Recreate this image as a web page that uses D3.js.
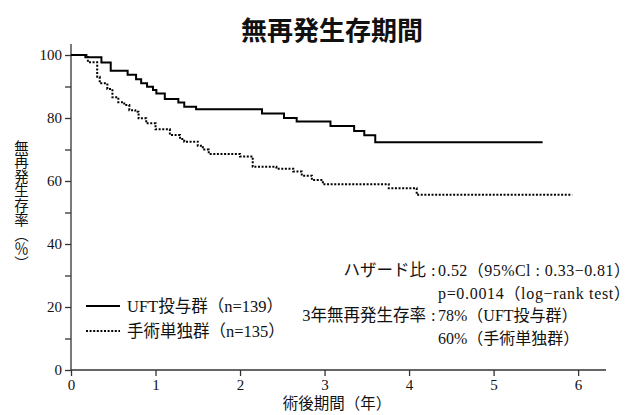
<!DOCTYPE html>
<html><head><meta charset="utf-8">
<script src="https://cdn.jsdelivr.net/npm/d3@7"></script>
<style>
body{margin:0;background:#fff;}
svg text{font-family:"Liberation Serif","Noto Sans CJK JP",serif;fill:#111;}
</style></head>
<body><svg id="c" width="638" height="415"></svg>
<script>
const uftTimes = [0, 0.17, 0.36, 0.47, 0.67, 0.77, 0.83, 0.90, 0.97, 1.01, 1.11, 1.27, 1.34, 1.48, 2.26, 2.52, 2.67, 3.07, 3.35, 3.47, 3.60, 5.58];
const uftSurv  = [100, 99.3, 97.6, 95.0, 93.7, 92.3, 91.0, 89.9, 88.9, 87.8, 86.0, 84.9, 83.6, 82.8, 81.4, 80.0, 78.9, 77.5, 75.9, 74.5, 72.3, 72.3];
const surgTimes = [0, 0.20, 0.31, 0.34, 0.43, 0.49, 0.56, 0.63, 0.69, 0.76, 0.80, 0.89, 1.00, 1.17, 1.29, 1.34, 1.50, 1.56, 1.63, 2.00, 2.15, 2.43, 2.63, 2.73, 2.85, 2.98, 3.76, 4.09, 5.93];
const surgSurv  = [100, 97.7, 93.1, 91.0, 89.2, 86.6, 85.0, 84.1, 82.5, 82.0, 79.9, 78.3, 76.4, 74.6, 73.3, 72.5, 71.2, 70.0, 68.6, 67.8, 64.5, 63.9, 63.0, 61.7, 60.3, 59.0, 57.7, 55.6, 55.6];
const xTicks = [0, 1, 2, 3, 4, 5, 6];
const yTicks = [0, 10, 20, 30, 40, 50, 60, 70, 80, 90, 100];
const yLabels = [0, 20, 40, 60, 80, 100];
const legendLabels = ["UFT投与群（n=139）", "手術単独群（n=135）"];
const title = "無再発生存期間";
const xTitle = "術後期間（年）";
const yTitle = "無再発生存率（％）";

const svg = d3.select("#c");
const x = d3.scaleLinear().domain([0, 6.33]).range([71, 606]);
const y = d3.scaleLinear().domain([0, 100]).range([370, 55]);

// axes
const xAxis = d3.axisBottom(x).tickValues(xTicks).tickSize(6).tickFormat(d3.format("d"));
const gx = svg.append("g").attr("transform", "translate(0,370)").call(xAxis);
gx.select(".domain").attr("d", `M${x(0)},0H${x(6.33)}`).attr("stroke", "#333").attr("stroke-width", 1.3);
gx.selectAll(".tick line").attr("stroke", "#333").attr("stroke-width", 1.3);
gx.selectAll(".tick text").attr("font-size", 15);

const yAxis = d3.axisLeft(y).tickValues(yTicks).tickSize(6)
  .tickFormat(d => yLabels.includes(d) ? d : "");
const gy = svg.append("g").attr("transform", "translate(71,0)").call(yAxis);
gy.select(".domain").attr("d", `M0,${y(103.5)}V${y(0)}`).attr("stroke", "#333").attr("stroke-width", 1.3);
gy.selectAll(".tick line").attr("stroke", "#333").attr("stroke-width", 1.3);
gy.selectAll(".tick text").attr("font-size", 15).attr("x", -9);

// curves
const line = d3.line().x(d => x(d[0])).y(d => y(d[1])).curve(d3.curveStepAfter);
const uft = uftTimes.map((t, i) => [t, uftSurv[i]]);
const surg = surgTimes.map((t, i) => [t, surgSurv[i]]);
svg.append("path").attr("d", line(surg)).attr("fill", "none").attr("stroke", "#000")
  .attr("stroke-width", 2).attr("stroke-dasharray", "2,1.6");
svg.append("path").attr("d", line(uft)).attr("fill", "none").attr("stroke", "#000")
  .attr("stroke-width", 2);

// title
svg.append("text").attr("x", 332).attr("y", 40).attr("text-anchor", "middle")
  .attr("font-size", 26).attr("font-weight", "bold")
  .style("font-family", "'Noto Sans CJK JP',sans-serif").text(title);

// axis titles
svg.append("text").attr("x", 337).attr("y", 409).attr("text-anchor", "middle")
  .attr("font-size", 15.5).text(xTitle);
svg.append("text").attr("x", 20).attr("y", 140)
  .attr("font-size", 14.5).style("writing-mode", "vertical-rl").text(yTitle);

// legend
const lg = svg.append("g");
[0, 1].forEach(i => {
  const yy = 306 + i * 25;
  lg.append("line").attr("x1", 86).attr("x2", 120).attr("y1", yy).attr("y2", yy)
    .attr("stroke", "#000").attr("stroke-width", 2)
    .attr("stroke-dasharray", i === 1 ? "2,1.6" : null);
  lg.append("text").attr("x", 127).attr("y", yy + 6).attr("font-size", 16.5).text(legendLabels[i]);
});

// annotations
const notes = [
  ["ハザード比", "0.52（95%Cl : 0.33−0.81）", 276],
  ["", "p=0.0014（log−rank test）", 299],
  ["3年無再発生存率", "78%（UFT投与群）", 321],
  ["", "60%（手術単独群）", 344]
];
notes.forEach(([k, v, yy]) => {
  if (k) {
    svg.append("text").attr("x", 426).attr("y", yy).attr("text-anchor", "end").attr("font-size", 16.5).text(k);
    svg.append("text").attr("x", 431).attr("y", yy).attr("font-size", 16.5).text(":");
  }
  svg.append("text").attr("x", 438).attr("y", yy).attr("font-size", 16).attr("textLength", v.length > 18 ? 192 : null).text(v);
});
</script></body></html>
